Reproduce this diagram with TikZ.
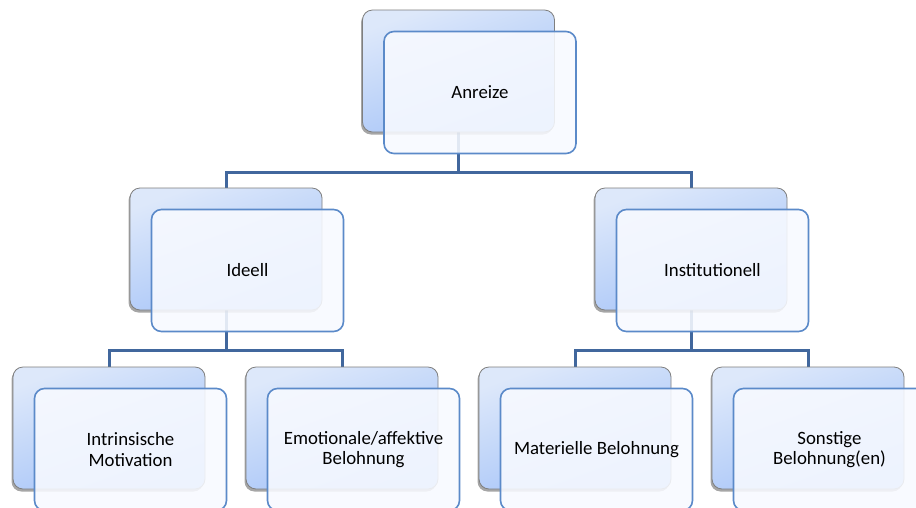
\documentclass[tikz,border=0pt]{standalone}
\usepackage{fontspec}
\setmainfont{Carlito}
\usetikzlibrary{shadows}
\definecolor{conn}{HTML}{41679D}
\definecolor{frontborder}{HTML}{5B8AC9}
\definecolor{frontfill}{HTML}{F8FAFF}
\definecolor{backtop}{HTML}{DDE8FA}
\definecolor{backbot}{HTML}{A3C2F8}
\definecolor{backborder}{HTML}{7F7F7F}
\tikzset{
  backbox/.style={rectangle, rounded corners=10pt, minimum width=192pt, minimum height=122pt,
    inner sep=0pt, outer sep=0pt, draw=backborder, line width=0.8pt,
    top color=backtop, bottom color=backbot, shading angle=20,
    drop shadow={shadow xshift=-1.5pt, shadow yshift=-2.5pt, opacity=0.35, fill=black}},
  frontbox/.style={rectangle, rounded corners=10pt, minimum width=192pt, minimum height=122pt,
    inner sep=0pt, outer sep=0pt, draw=frontborder, line width=1.6pt,
    fill=frontfill, fill opacity=0.88, text opacity=1, align=center,
    font=\fontsize{18.8}{20.5}\selectfont},
  conn/.style={draw=conn, line width=3pt}
}
\begin{document}
\begin{tikzpicture}[x=1pt, y=-1pt]
\useasboundingbox (0,0) rectangle (916,507);
\clip (0,0) rectangle (916,507);
\fill[white] (0,0) rectangle (916,507);
% back box positions (centers)
\coordinate (pA) at (458.5,71);
\coordinate (pI) at (226,249);
\coordinate (pJ) at (691,249);
\coordinate (p1) at (109,428);
\coordinate (p2) at (342,428);
\coordinate (p3) at (575,428);
\coordinate (p4) at (808,428);
% connectors (behind boxes)
\draw[conn] (pA) -- (458.5,172) -| (pI);
\draw[conn] (458.5,172) -| (pJ);
\draw[conn] (pI) -- (226,350) -| (p1);
\draw[conn] (226,350) -| (p2);
\draw[conn] (pJ) -- (691,350) -| (p3);
\draw[conn] (691,350) -| (p4);
% back boxes
\node[backbox] (aB) at (pA) {};
\node[backbox] (iB) at (pI) {};
\node[backbox] (jB) at (pJ) {};
\node[backbox] (b1B) at (p1) {};
\node[backbox] (b2B) at (p2) {};
\node[backbox] (b3B) at (p3) {};
\node[backbox] (b4B) at (p4) {};
% front boxes
\node[frontbox] (a) at ([shift={(21.5,21.5)}]aB.center) {Anreize};
\node[frontbox] (i) at ([shift={(21.5,21.5)}]iB.center) {Ideell};
\node[frontbox] (j) at ([shift={(21.5,21.5)}]jB.center) {Institutionell};
\node[frontbox] (b1) at ([shift={(21.5,21.5)}]b1B.center) {Intrinsische\\Motivation};
\node[frontbox] (b2) at ([shift={(21.5,21.5)}]b2B.center) {Emotionale/affektive\\Belohnung};
\node[frontbox] (b3) at ([shift={(21.5,21.5)}]b3B.center) {Materielle Belohnung};
\node[frontbox] (b4) at ([shift={(21.5,21.5)}]b4B.center) {Sonstige\\Belohnung(en)};
\end{tikzpicture}
\end{document}
